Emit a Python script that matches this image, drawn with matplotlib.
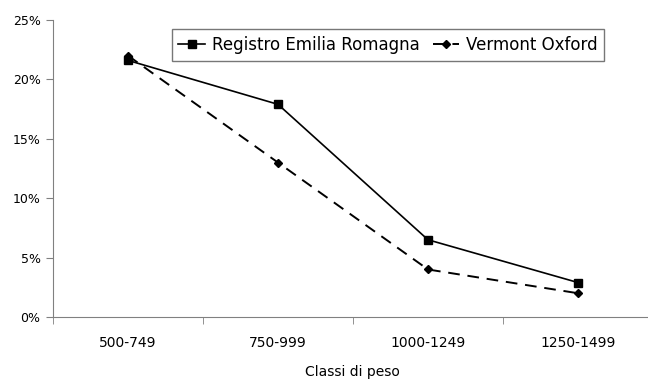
import matplotlib.pyplot as plt
from matplotlib.ticker import FuncFormatter, FixedLocator

categories = ['500-749', '750-999', '1000-1249', '1250-1499']
registro = [21.6, 17.9, 6.5, 2.9]
vermont = [22.0, 13.0, 4.0, 2.0]
yticks = [0, 5, 10, 15, 20, 25]

fig = plt.figure(figsize=(6.48, 3.81), dpi=100)
ax = fig.add_axes([53 / 648, 1 - 317 / 381, 600 / 648, 297 / 381])

x = range(len(categories))
ax.plot(x, registro, '-', color='black', lw=1.2, marker='s', ms=6,
        label='Registro Emilia Romagna')
ax.plot(x, vermont, '--', color='black', lw=1.4, marker='D', ms=4,
        dashes=(6, 4), label='Vermont Oxford')

ax.set_xlim(-0.5, 3.5)
ax.set_ylim(0, 25)
ax.set_yticks(yticks)
ax.yaxis.set_major_formatter(FuncFormatter(lambda v, p: '%d%%' % v))
ax.set_xticks(list(x))
ax.set_xticklabels(categories, fontsize=10)
ax.tick_params(axis='x', length=0, pad=14)
# tick marks between categories
ax.xaxis.set_minor_locator(FixedLocator([-0.5, 0.5, 1.5, 2.5, 3.5]))
ax.tick_params(axis='x', which='minor', length=5, color='#808080')
ax.tick_params(axis='y', length=5, color='#808080', labelsize=9, pad=4)

for s in ['top', 'right']:
    ax.spines[s].set_visible(False)
for s in ['left', 'bottom']:
    ax.spines[s].set_color('#808080')

fig.text(352 / 648, 1 - 372 / 381, 'Classi di peso', ha='center', va='center',
         fontsize=10)

leg = ax.legend(ncol=2, loc='center', bbox_to_anchor=(388 / 648, 1 - 45 / 381),
                bbox_transform=fig.transFigure, fontsize=12, frameon=True,
                fancybox=False, edgecolor='#555555', handlelength=1.6,
                columnspacing=0.8, handletextpad=0.4, borderpad=0.4)
leg.get_frame().set_linewidth(1.0)

fig.savefig('out.png', dpi=100)
